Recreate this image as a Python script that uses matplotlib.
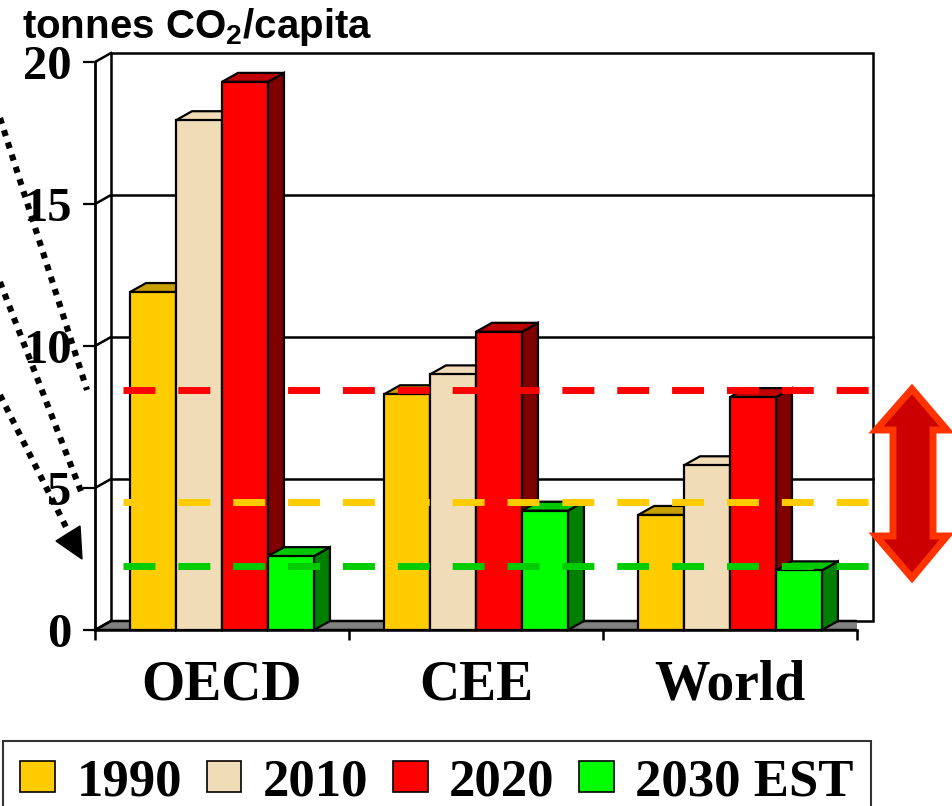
import matplotlib
matplotlib.use("Agg")
import matplotlib.pyplot as plt
import matplotlib.transforms as mtransforms
from matplotlib.patches import Polygon, Rectangle, Patch

# data (tonnes CO2 per capita)
regions = ["OECD", "CEE", "World"]
series = ["1990", "2010", "2020", "2030 EST"]
co2_1990 = [11.9, 8.3, 4.05]
co2_2010 = [17.95, 9.0, 5.8]
co2_2020 = [19.3, 10.5, 8.2]
co2_2030 = [2.6, 4.2, 2.1]
values = [co2_1990, co2_2010, co2_2020, co2_2030]

# horizontal reference levels (dashed)
levels = [8.45, 4.5, 2.25]
level_colors = ["#FF0000", "#FFCC00", "#00CC00"]

# front / top / side colours for the fake 3d bars
front_cols = ["#FFCC00", "#F0DCB6", "#FF0000", "#00FF00"]
top_cols = ["#C8A000", "#F2DCB8", "#C00000", "#00C800"]
side_cols = ["#A08000", "#B8A07C", "#800000", "#008000"]

plt.rcParams["font.family"] = ["Liberation Serif", "DejaVu Serif"]
plt.rcParams["font.weight"] = "bold"
plt.rcParams["mathtext.fontset"] = "custom"
plt.rcParams["mathtext.rm"] = "Liberation Sans:bold"
plt.rcParams["mathtext.default"] = "rm"

W, H = 953, 806
fig = plt.figure(figsize=(W / 100, H / 100), dpi=100)
ax = fig.add_axes([95 / W, 176 / H, 762 / W, 568 / H])
ax.set_xlim(0, 3)
ax.set_ylim(0, 20)
ax.patch.set_visible(False)

# depth offset of the pseudo 3d box in data units
DX = 16 / 254
DY = 9 / 28.4
bar_w = 0.181
gap = (1 - 4 * bar_w) / 2

# floor
floor = Polygon([(0, 0), (3, 0), (3 + DX, DY), (DX, DY)], closed=True,
                facecolor="#808080", edgecolor="black", lw=1.8, zorder=1)
ax.add_patch(floor)
# back wall
wall = Rectangle((DX, DY), 3, 20, facecolor="white", edgecolor="black",
                 lw=1.8, zorder=0.8, clip_on=False)
ax.add_patch(wall)
for v in [0, 5, 10, 15, 20]:
    ax.plot([0, DX], [v, v + DY], color="black", lw=1.8, zorder=1.2, clip_on=False)
    if 0 < v < 20:
        ax.plot([DX, 3 + DX], [v + DY, v + DY], color="black", lw=1.8,
                zorder=1.2, clip_on=False)

# bars, left to right so later bars hide earlier side faces
for g in range(len(regions)):
    for i in range(len(series)):
        v = values[i][g]
        x0 = g + gap + i * bar_w
        side = Polygon([(x0 + bar_w, 0), (x0 + bar_w + DX, DY),
                        (x0 + bar_w + DX, v + DY), (x0 + bar_w, v)],
                       closed=True, facecolor=side_cols[i], edgecolor="black",
                       lw=1.6, zorder=3, clip_on=False)
        top = Polygon([(x0, v), (x0 + bar_w, v), (x0 + bar_w + DX, v + DY),
                       (x0 + DX, v + DY)], closed=True, facecolor=top_cols[i],
                      edgecolor="black", lw=1.6, zorder=3, clip_on=False)
        front = Rectangle((x0, 0), bar_w, v, facecolor=front_cols[i],
                          edgecolor="black", lw=1.6, zorder=3, clip_on=False)
        ax.add_patch(side)
        ax.add_patch(top)
        ax.add_patch(front)

# dashed levels
for lvl, c in zip(levels, level_colors):
    ax.plot([0.110, 3.102], [lvl, lvl], color=c, lw=5,
            linestyle=(0, (4.6, 3.3)), dash_capstyle="butt",
            zorder=6, clip_on=False)

# axes
for s in ["top", "right"]:
    ax.spines[s].set_visible(False)
ax.spines["left"].set_linewidth(2.0)
ax.spines["bottom"].set_linewidth(1.8)
ax.set_yticks([0, 5, 10, 15, 20])
ax.tick_params(axis="y", direction="out", length=9, width=1.6, pad=8,
               labelsize=35)
ax.set_xticks([0, 1, 2, 3], ["", "", "", ""])
ax.set_xticks([0.5, 1.5, 2.5], regions, minor=True)
ax.tick_params(axis="x", which="major", direction="out", length=7.5, width=1.8)
ax.tick_params(axis="x", which="minor", length=0, pad=21, labelsize=40)

# title
fig.text(22 / W, 1 - 38 / H, r"tonnes CO$_2$/capita", fontsize=29,
         family="Liberation Sans", weight="bold", va="baseline", ha="left")

# decorations in image pixel coordinates (origin top left)
px = mtransforms.Affine2D().scale(1, -1).translate(0, H)
dot_style = dict(color="black", lw=4.4, linestyle=(0, (1.0, 1.1)),
                 dash_capstyle="butt", transform=px, clip_on=False)
fig.add_artist(plt.Line2D([0, 87], [118, 390], **dot_style))
fig.add_artist(plt.Line2D([0, 82], [282, 494], **dot_style))
fig.add_artist(plt.Line2D([0, 70], [395, 535], **dot_style))
fig.add_artist(Polygon([(82, 559), (56, 541), (80, 526)], closed=True,
                       facecolor="black", edgecolor="black", transform=px))

arrow = [(912, 389), (947, 430), (933, 430), (933, 536), (947, 536),
         (912, 578), (876, 536), (893, 536), (893, 430), (876, 430)]
fig.add_artist(Polygon(arrow, closed=True, facecolor="#CC0000",
                       edgecolor="#FF3300", lw=5, joinstyle="miter",
                       transform=px))

# legend
handles = [Patch(facecolor=c, edgecolor="black", lw=1.2) for c in front_cols]
leg = fig.legend(handles, series, loc="upper left",
                 bbox_to_anchor=(3 / W, 1 - 741 / H), ncol=4, fontsize=38,
                 frameon=True, fancybox=False, edgecolor="black",
                 handlelength=0.66, handleheight=0.53, handletextpad=0.4,
                 columnspacing=0.47, borderpad=0.33, borderaxespad=0)
leg.get_frame().set_linewidth(1.5)

fig.savefig("out.png", dpi=100)
